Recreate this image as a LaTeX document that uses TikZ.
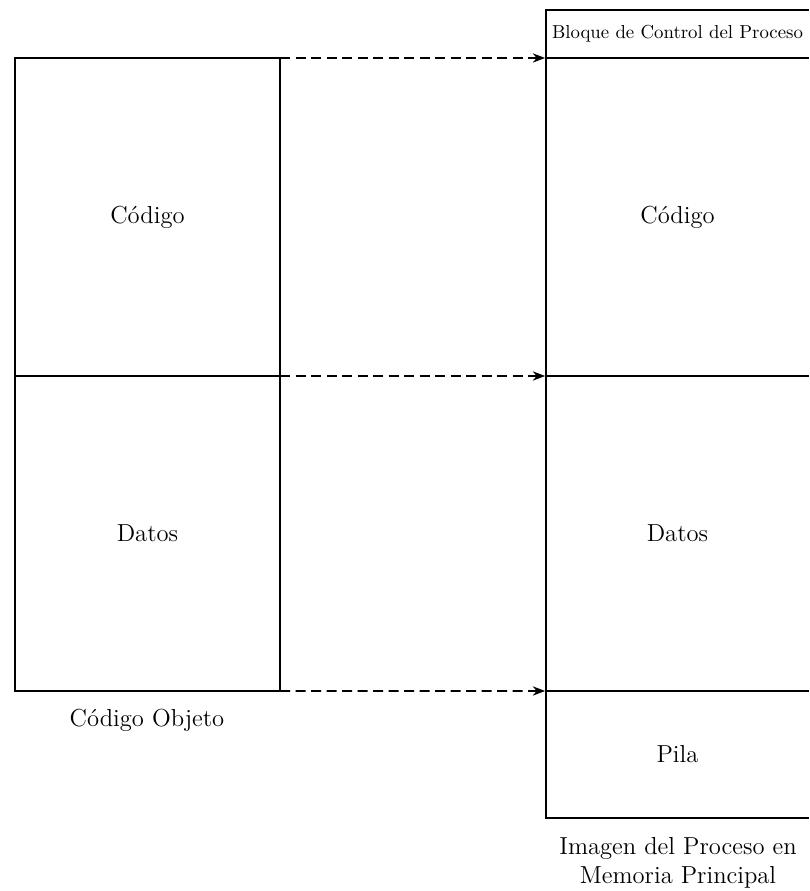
\documentclass[tikz,border=0pt]{standalone}
\usepackage{tikz}
\usetikzlibrary{arrows.meta}

\begin{document}
\begin{tikzpicture}[>=Stealth,line width=0.9pt]
      \tikzset{seg/.style={minimum width=5.3cm,inner sep=0pt,outer sep=0pt,font=\fontsize{14}{16}\selectfont},
               carga/.style={->,dashed,dash pattern=on 0.2cm off 0.11cm,shorten >=0.5pt}}
      \useasboundingbox (0,0) rectangle (16.18,17.82);
      % programa en disco
      \node[seg,draw,minimum height=6.36cm] (codL) at (2.95,13.48) {Código};
      \node[seg,draw,minimum height=6.30cm] (datL) at (2.95,7.15) {Datos};
      \node[font=\fontsize{14}{16}\selectfont] (objeto) at (2.94,3.42) {Código Objeto};
      % imagen en memoria
      \node[seg,minimum width=5.26cm,minimum height=0.96cm,font=\fontsize{10.7}{12}\selectfont] (pcb) at (13.55,17.14) {Bloque de Control del Proceso};
      \node[seg,minimum width=5.26cm,minimum height=6.36cm] (codR) at (13.55,13.48) {Código};
      \node[seg,minimum width=5.26cm,minimum height=6.30cm] (datR) at (13.55,7.15) {Datos};
      \node[seg,minimum width=5.26cm,minimum height=2.54cm] (pila) at (13.55,2.73) {Pila};
      \node[align=center,font=\fontsize{14}{16.5}\selectfont,anchor=north] (imagen) at (13.56,1.2) {Imagen del Proceso en\\ Memoria Principal};
      \draw (pcb.north east) -- (pcb.north west) -- (pila.south west) -- (pila.south east);
      \draw (pcb.south west) -- (pcb.south east);
      \draw (codR.south west) -- (codR.south east);
      \draw (datR.south west) -- (datR.south east);
      % carga del programa
      \draw[carga] (codL.north east) -- (codR.north west);
      \draw[carga] (datL.north east) -- (datR.north west);
      \draw[carga] (datL.south east) -- (pila.north west);
    \end{tikzpicture}
\end{document}
